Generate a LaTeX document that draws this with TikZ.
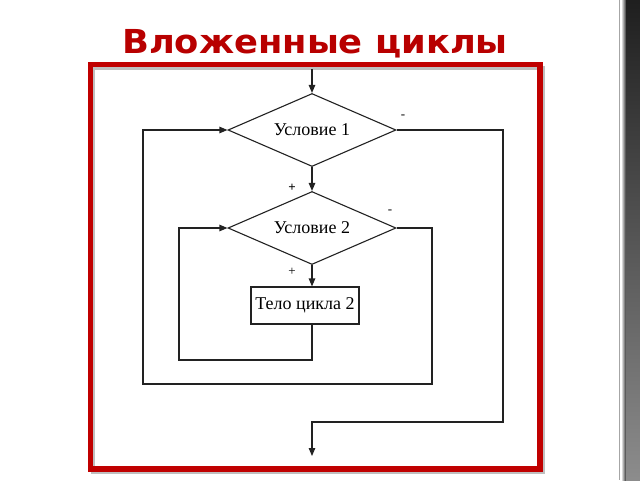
\documentclass[tikz,border=0pt]{standalone}
\usepackage{fontspec}
\setmainfont{Liberation Serif}
\newfontfamily\titlefont{DejaVu Sans}
\usetikzlibrary{shapes.geometric,arrows.meta}
\definecolor{titlered}{HTML}{B80000}
\definecolor{framered}{HTML}{C00000}
\definecolor{linegray}{HTML}{222222}
\tikzset{
  cond/.style={draw=linegray, line width=1.1pt, shape=diamond, aspect=2.3, minimum width=168pt, minimum height=73pt, inner sep=0pt, font=\fontsize{18}{20}\selectfont},
  bodybox/.style={draw=linegray, line width=1.1pt, minimum width=108pt, minimum height=37pt, inner sep=1pt, font=\fontsize{18}{20}\selectfont},
  conn/.style={draw=linegray, line width=1.1pt},
  arr/.style={conn, -{Triangle[length=8pt,width=6.5pt]}},
  sign/.style={font=\fontsize{13}{14}\selectfont, inner sep=0pt}
}
\begin{document}
\begin{tikzpicture}[x=1pt,y=-1pt]
\useasboundingbox (0,0) rectangle (640,480);
\fill[white] (0,0) rectangle (640,480);
% right edge decoration
\draw[gray!70, line width=1pt] (619,0) -- (619,480);
\shade[left color=white, right color=black!80] (621,0) rectangle (626,480);
\shade[top color=black!88, bottom color=black!45] (626,0) rectangle (640,480);
% title
\node[font=\titlefont\bfseries\fontsize{33}{36}\selectfont, text=titlered, xscale=1.07] (title) at (315,44) {Вложенные циклы};
% frame shadow and frame
\draw[black!25, line width=4pt] (93,67.5) rectangle (543,472);
\draw[framered, line width=5.5pt] (90.5,64.5) rectangle (540,469);
% nodes
\node[cond] (d1) at (312,130) {Условие 1};
\node[cond] (d2) at (312,228) {Условие 2};
\node[bodybox] (body) at (305,305.5) {Тело цикла 2};
\coordinate (start) at (312,69);
\coordinate (c1) at (179,360);
\coordinate (c2) at (432,384);
\coordinate (c3) at (143,384);
\coordinate (c4) at (503,422);
\coordinate (c5) at (312,422);
\coordinate (finish) at (312,456);
% connectors
\draw[arr] (start) -- (d1.north);
\draw[arr] (d1.south) -- (d2.north);
\draw[arr] (d2.south) -- (body.north -| d2.south);
\draw[arr] (body.south -| d2.south) |- (c1) |- (d2.west);
\draw[arr] (d2.east) -| (c2) -- (c3) |- (d1.west);
\draw[arr] (d1.east) -| (c4) -- (c5) -- (finish);
% labels
\node[sign] (m1) at (403,117) {-};
\node[sign] (m2) at (390,212) {-};
\node[sign] (p1) at (292,188) {\textbf{+}};
\node[sign] (p2) at (292,272) {+};
\end{tikzpicture}
\end{document}
